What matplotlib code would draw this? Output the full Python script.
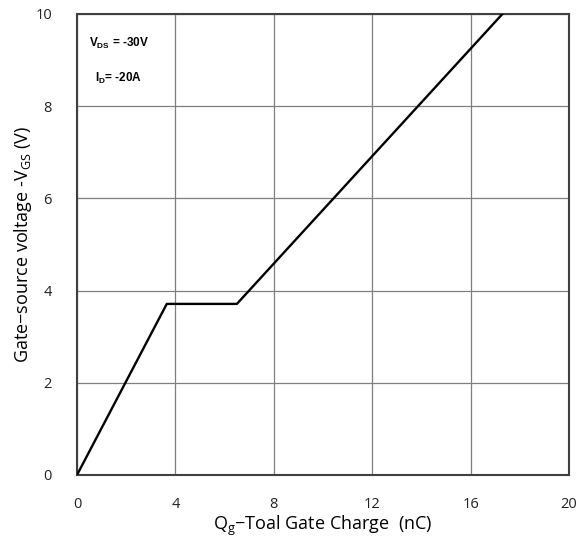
import matplotlib
matplotlib.use("Agg")
import matplotlib.pyplot as plt

# gate charge curve (nC, V)
qg = [0.0, 3.65, 6.5, 17.3]
vgs = [0.0, 3.71, 3.71, 10.0]
xticks = [0, 4, 8, 12, 16, 20]
yticks = [0, 2, 4, 6, 8, 10]

plt.rcParams["font.family"] = ["Open Sans", "DejaVu Sans"]
plt.rcParams["mathtext.fontset"] = "custom"
plt.rcParams["mathtext.rm"] = "Open Sans"
plt.rcParams["mathtext.it"] = "Open Sans"
plt.rcParams["mathtext.bf"] = "Liberation Sans:bold"

fig = plt.figure(figsize=(5.85, 5.49), dpi=100)
ax = fig.add_axes([0.1316, 0.1348, 0.841, 0.84])
ax.plot(qg, vgs, color="black", lw=1.7, zorder=3)
ax.set_xlim(0, 20); ax.set_ylim(0, 10)
ax.set_xticks(xticks); ax.set_yticks(yticks)
ax.grid(True, color="#7f7f7f", lw=0.9)
for s in ax.spines.values():
    s.set_color("#404040"); s.set_linewidth(1.5)
ax.tick_params(length=0, labelsize=10.5, colors="#222222")
ax.tick_params(axis="x", pad=16)
ax.tick_params(axis="y", pad=18)
ax.set_xlabel(r"Q$_{\rm g}$−Toal Gate Charge  (nC)", fontsize=13, labelpad=1)
ax.set_ylabel(r"Gate−source voltage -V$_{\rm GS}$ (V)", fontsize=13, labelpad=1)

ax.text(0.025, 0.935, r"$\mathbf{V}_{\mathbf{DS}}$ = -30V", transform=ax.transAxes,
        fontsize=8.5, family="Liberation Sans", weight="bold", va="center")
ax.text(0.037, 0.86, r"$\mathbf{I}_{\mathbf{D}}$= -20A", transform=ax.transAxes,
        fontsize=8.5, family="Liberation Sans", weight="bold", va="center")

fig.savefig("out.png", dpi=100)
